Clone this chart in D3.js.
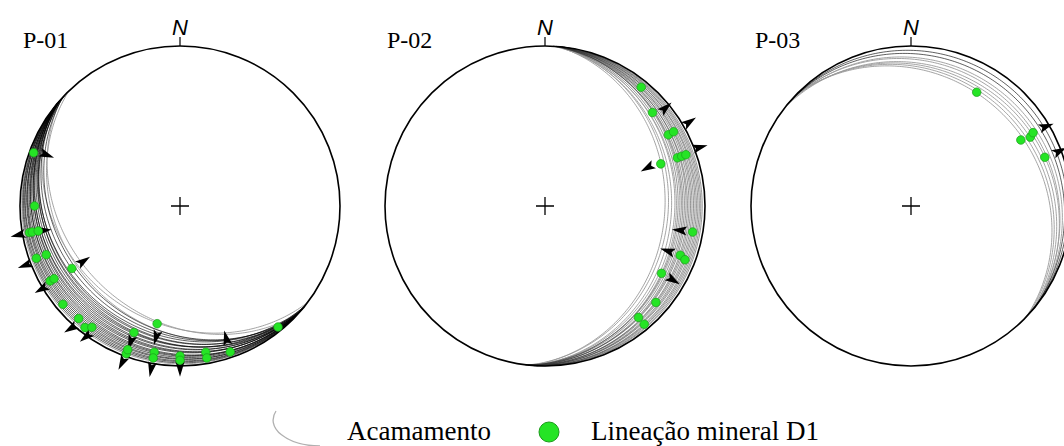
<!DOCTYPE html>
<html>
<head>
<meta charset="utf-8">
<script src="https://cdn.jsdelivr.net/npm/d3@7"></script>
<style>
  body { margin: 0; background: #fff; }
  svg { display: block; }
  .serif { font-family: "Liberation Serif", "Times New Roman", "DejaVu Serif", serif; }
  .sans { font-family: "Liberation Sans", Arial, sans-serif; }
</style>
</head>
<body>
<div id="chart"></div>
<script>
// Lower hemisphere equal-area nets
// planes: [dip direction, dip], lineations: [trend, plunge], arrows: [trend, plunge, sense azimuth]
const netNames = ["P-01", "P-02", "P-03"];

const p01Planes = [[221, 3], [220, 4], [222, 5], [219, 6], [223, 7], [221, 8], [220, 9], [222, 10],
  [224, 11], [219, 12], [221, 13], [223, 14], [220, 15], [222, 16], [218, 17], [221, 18],
  [224, 19], [220, 20], [222, 21], [219, 22], [221, 24], [223, 26]];
const p01Gray = [[217, 29], [222, 31], [226, 27], [220, 2]];
const p01Lin = [[290, 3], [270, 10], [260, 5], [260, 7], [260, 11], [250, 5], [250, 12], [240, 7],
  [240, 10], [240, 23], [230, 5], [222, 6], [218, 4], [216, 7], [200, 17], [191, 26], [200, 2],
  [200, 5], [190, 8], [190, 4], [180, 7], [180, 4], [170, 8], [170, 4], [161, 4], [141, 3]];
const p01Arrows = [[291, 7, 111], [260, 2, 257], [260, 10, 83], [249, 1, 250], [240, 27, 56],
  [239, 4, 240], [221, 2, 238], [215, 4, 231], [200, 0, 207], [190, 1, 191], [180, 3, 180],
  [200, 15, 199], [190, 22, 196], [161, 9, 346]];

const p02Planes = [[95, 2], [94, 3], [96, 4], [95, 5], [93, 6], [97, 7], [95, 8], [94, 9], [96, 10],
  [95, 11], [93, 12], [97, 13], [95, 14], [94, 15], [96, 16], [95, 18]];
const p02Gray = [[95, 20], [94, 22], [96, 24], [95, 26], [97, 17], [93, 19]];
const p02Lin = [[39, 5], [49, 12], [60, 12], [60, 8], [70, 13], [70, 10], [70, 7], [70, 24],
  [100, 7], [110, 11], [111, 7], [120, 17], [131, 9], [140, 10], [140, 4]];
const p02Arrows = [[51, 8, 48], [60, 0, 56], [69, 1, 75], [69, 28, 241], [100, 11, 276],
  [110, 15, 288], [120, 13, 121]];

const p03Planes = [[40, 4], [41, 7]];
const p03Gray = [[39, 10], [42, 12], [38, 14], [41, 16], [43, 18], [44, 20]];
const p03Lin = [[30, 19], [59, 21], [60, 15], [59, 12], [70, 12]];
const p03Arrows = [[59, 7, 70], [70, 6, 63]];

const legendLabels = ["Acamamento", "Lineação mineral D1"];

const blackPlanes = [p01Planes, p02Planes, p03Planes];
const grayPlanes = [p01Gray, p02Gray, p03Gray];
const lineations = [p01Lin, p02Lin, p03Lin];
const arrows = [p01Arrows, p02Arrows, p03Arrows];

// layout
const width = 1064, height = 446;
const R = 160;
const centers = [[180, 206], [545, 206], [911, 206]];
const titleX = [23, 387, 755];
const green = "#25e425", greenEdge = "#1c9c1c";

const svg = d3.select("#chart").append("svg")
    .attr("width", width)
    .attr("height", height);

const rad = Math.PI / 180;

// trend/plunge -> unit disc coordinates (x east, y north)
function toUnit(trend, plunge) {
    const r = Math.SQRT2 * Math.sin((90 - plunge) / 2 * rad);
    return [r * Math.sin(trend * rad), r * Math.cos(trend * rad)];
}

// great circle of a plane, sampled along the plane from strike to strike
function greatCircle(dd, dip) {
    const sAz = (dd - 90) * rad;
    const s = [Math.sin(sAz), Math.cos(sAz), 0];
    const d = [Math.sin(dd * rad) * Math.cos(dip * rad), Math.cos(dd * rad) * Math.cos(dip * rad), Math.sin(dip * rad)];
    return d3.range(0, 181, 1).map(t => {
        const c = Math.cos(t * rad), sn = Math.sin(t * rad);
        const v = [c * s[0] + sn * d[0], c * s[1] + sn * d[1], c * s[2] + sn * d[2]];
        const trend = Math.atan2(v[0], v[1]) / rad;
        const plunge = Math.asin(Math.min(1, Math.max(0, v[2]))) / rad;
        return toUnit(trend, plunge);
    });
}

netNames.forEach((name, i) => {
    const [cx, cy] = centers[i];
    const x = d3.scaleLinear().domain([-1, 1]).range([cx - R, cx + R]);
    const y = d3.scaleLinear().domain([-1, 1]).range([cy + R, cy - R]);
    const line = d3.line().x(p => x(p[0])).y(p => y(p[1]));
    const g = svg.append("g");

    g.selectAll("path.gray")
        .data(grayPlanes[i])
        .join("path")
        .attr("class", "gray")
        .attr("d", p => line(greatCircle(p[0], p[1])))
        .attr("fill", "none")
        .attr("stroke", "#9a9a9a")
        .attr("stroke-width", 0.9);

    g.selectAll("path.black")
        .data(blackPlanes[i])
        .join("path")
        .attr("class", "black")
        .attr("d", p => line(greatCircle(p[0], p[1])))
        .attr("fill", "none")
        .attr("stroke", i === 1 ? "#333" : "#000")
        .attr("stroke-opacity", i === 1 ? 0.75 : 0.9)
        .attr("stroke-width", 0.7);

    // primitive circle
    g.append("circle")
        .attr("cx", x(0)).attr("cy", y(0))
        .attr("r", x(1) - x(0))
        .attr("fill", "none")
        .attr("stroke", "#000")
        .attr("stroke-width", 1.6);

    // centre cross
    g.append("path")
        .attr("d", `M${x(0) - 9},${y(0)}H${x(0) + 9}M${x(0)},${y(0) - 9}V${y(0) + 9}`)
        .attr("stroke", "#000")
        .attr("stroke-width", 1.3);

    // north tick and label
    g.append("line")
        .attr("x1", x(0)).attr("x2", x(0))
        .attr("y1", y(1)).attr("y2", y(1) - 9)
        .attr("stroke", "#000")
        .attr("stroke-width", 1.2);
    g.append("text")
        .attr("class", "sans")
        .attr("x", x(0)).attr("y", y(1) - 11)
        .attr("text-anchor", "middle")
        .attr("font-style", "italic")
        .attr("font-size", 22)
        .text("N");

    g.append("text")
        .attr("class", "serif")
        .attr("x", titleX[i]).attr("y", 48)
        .attr("font-size", 24)
        .text(name);

    // movement sense arrows
    const dart = d3.line().curve(d3.curveLinearClosed);
    g.selectAll("path.arrow")
        .data(arrows[i])
        .join("path")
        .attr("class", "arrow")
        .attr("d", a => {
            const p = toUnit(a[0], a[1]);
            const bx = x(p[0]), by = y(p[1]);
            const ux = Math.sin(a[2] * rad), uy = -Math.cos(a[2] * rad);
            const L = 15, w = 4.5;
            return dart([
                [bx + L * ux, by + L * uy],
                [bx - w * uy, by + w * ux],
                [bx + 3 * ux, by + 3 * uy],
                [bx + w * uy, by - w * ux]
            ]);
        })
        .attr("fill", "#000");

    // lineations
    g.selectAll("circle.lin")
        .data(lineations[i])
        .join("circle")
        .attr("class", "lin")
        .attr("cx", d => x(toUnit(d[0], d[1])[0]))
        .attr("cy", d => y(toUnit(d[0], d[1])[1]))
        .attr("r", 4.3)
        .attr("fill", green)
        .attr("stroke", greenEdge)
        .attr("stroke-width", 0.7);
});

// legend: small bedding arc, then the lineation dot
const legend = svg.append("g");
legend.append("path")
    .attr("d", "M276,411 A47,26 0 0 0 320,446")
    .attr("fill", "none")
    .attr("stroke", "#b0b0b0")
    .attr("stroke-width", 1.3);
legend.append("text")
    .attr("class", "serif")
    .attr("x", 347).attr("y", 440)
    .attr("font-size", 27)
    .text(legendLabels[0]);
legend.append("circle")
    .attr("cx", 549).attr("cy", 432)
    .attr("r", 10)
    .attr("fill", green)
    .attr("stroke", greenEdge)
    .attr("stroke-width", 1);
legend.append("text")
    .attr("class", "serif")
    .attr("x", 591).attr("y", 440)
    .attr("font-size", 27)
    .text(legendLabels[1]);
</script>
</body>
</html>
